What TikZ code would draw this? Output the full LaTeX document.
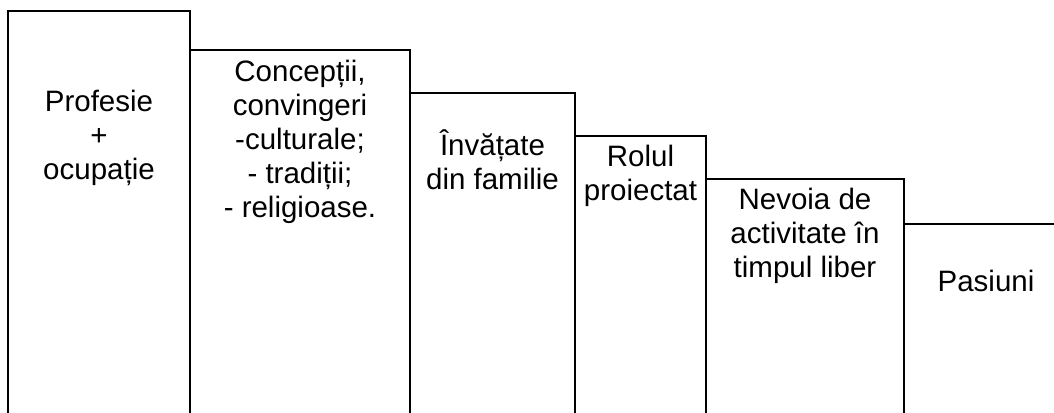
\documentclass[tikz,border=0pt]{standalone}
\usepackage{fontspec}
\setmainfont{Liberation Sans}
\usetikzlibrary{positioning}

\begin{document}
\begin{tikzpicture}[
  x=1pt, y=1pt,
  stepbox/.style={draw=black, line width=1.6pt, minimum height=440pt, anchor=north west, inner sep=0pt, outer sep=0pt},
  steptext/.style={align=center, inner sep=0pt, outer sep=0pt, font=\fontsize{29.5}{34}\selectfont},
]
\useasboundingbox (0,0) rectangle (1054,412);
\clip (0,0) rectangle (1054,412);
% descending steps, open at the bottom
\node[stepbox, minimum width=182pt] (prof) at (8,401) {};
\node[stepbox, minimum width=220pt] (conc) at (190,362) {};
\node[stepbox, minimum width=165pt] (fam) at (410,319) {};
\node[stepbox, minimum width=131pt] (rol) at (575,276) {};
\node[stepbox, minimum width=198pt] (nev) at (706,233) {};
\node[stepbox, minimum width=164pt] (pas) at (904,188) {};
% texts
\node[steptext, below=79pt of prof.north] (profT) {Profesie\\+\\ocupație};
\node[steptext, below=10pt of conc.north] (concT) {Concepții,\\convingeri\\-culturale;\\- tradiții;\\- religioase.};
\node[steptext, below=37pt of fam.north] (famT) {Învățate\\din familie};
\node[steptext, below=9pt of rol.north] (rolT) {Rolul\\proiectat};
\node[steptext, below=9pt of nev.north] (nevT) {Nevoia de\\activitate în\\timpul liber};
\node[steptext, below=46pt of pas.north] (pasT) {Pasiuni};
\end{tikzpicture}
\end{document}
